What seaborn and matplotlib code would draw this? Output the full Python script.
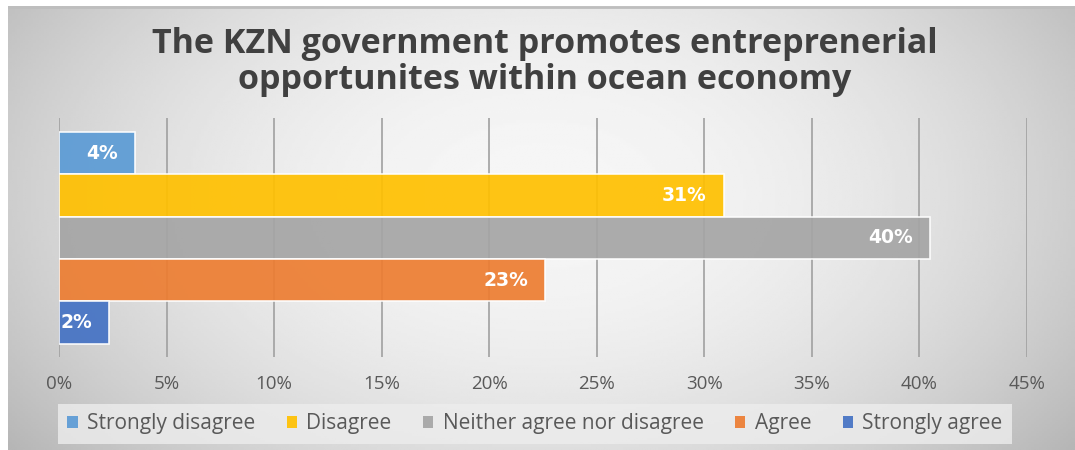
import numpy as np
import pandas as pd
import matplotlib
matplotlib.use("Agg")
import matplotlib.pyplot as plt
from matplotlib.patches import Patch
import seaborn as sns

# Survey responses (share of respondents, %)
categories = ["Strongly disagree", "Disagree", "Neither agree nor disagree", "Agree", "Strongly agree"]
shares = [3.53, 30.9, 40.47, 22.6, 2.33]
colors = ["#5B9BD5", "#FFC000", "#A5A5A5", "#ED7D31", "#4472C4"]
x_ticks = [0, 5, 10, 15, 20, 25, 30, 35, 40, 45]
title = "The KZN government promotes entreprenerial\nopportunites within ocean economy"

df = pd.DataFrame({"response": categories, "share": shares})

sns.set_theme(style="white")
plt.rcParams["font.family"] = ["Open Sans", "DejaVu Sans"]

fig = plt.figure(figsize=(10.75, 4.5), dpi=100)
fig.patch.set_facecolor("white")

# Soft radial gradient behind the chart area
bg = fig.add_axes([8 / 1075, 0, 1 - 8 / 1075, 1 - 6 / 450])
gx, gy = np.meshgrid(np.linspace(-1, 1, 400), np.linspace(-1, 1, 200))
r2 = (gx / 1.0) ** 2 + ((gy + 0.15) / 1.5) ** 2
shade = np.clip(0.965 - 0.16 * r2, 0, 1)
bg.imshow(shade, cmap="gray", vmin=0, vmax=1, aspect="auto", extent=[0, 1, 0, 1])
bg.axhline(0.997, color="#BEBEBE", lw=2)
bg.set_axis_off()

ax = fig.add_axes([59 / 1075, 1 - 357 / 450, (1027 - 59) / 1075, (357 - 118) / 450])
ax.patch.set_alpha(0)

sns.barplot(data=df, x="share", y="response", hue="response", palette=colors,
            orient="h", width=1.0, dodge=False, legend=False, ax=ax, saturation=1,
            edgecolor="white", linewidth=1.2, alpha=0.92, zorder=3)

ax.set_xlim(0, 45)
ax.set_ylim(4.5 + 0.31, -0.5 - 0.33)
ax.set_xticks(x_ticks)
ax.set_xticklabels([f"{t}%" for t in x_ticks])
ax.set_yticks([])
ax.set_xlabel("")
ax.set_ylabel("")
for t in x_ticks:
    ax.axvline(t, color="#A0A0A0", lw=1.2, zorder=1)
for s in ax.spines.values():
    s.set_visible(False)
ax.tick_params(axis="x", length=0, pad=13, labelsize=13.5, labelcolor="#595959")

# Value labels inside the bar ends
pad_px = 17
for i, v in enumerate(shares):
    ax.annotate(f"{v:.0f}%", xy=(v, i), xytext=(-pad_px * 0.72, 0),
                textcoords="offset points", ha="right", va="center",
                color="white", fontsize=13.5, fontweight="bold",
                family="DejaVu Sans", zorder=5)

fig.text(545 / 1075, 1 - 62 / 450, title, ha="center", va="center",
         fontsize=24.5, fontweight="bold", color="#404040", linespacing=1.05)

handles = [Patch(facecolor=c, edgecolor="none", alpha=0.92) for c in colors]
leg = fig.legend(handles, categories, loc="center", bbox_to_anchor=(535 / 1075, 1 - 424 / 450),
                 ncol=5, frameon=True, fontsize=15, handlelength=0.5, handleheight=0.5,
                 handletextpad=0.45, columnspacing=1.5, borderpad=0.45, fancybox=False)
leg.get_frame().set_facecolor("#EDEDED")
leg.get_frame().set_edgecolor("none")
leg.get_frame().set_alpha(0.8)
for txt in leg.get_texts():
    txt.set_color("#595959")

fig.savefig("out.png", dpi=100)
